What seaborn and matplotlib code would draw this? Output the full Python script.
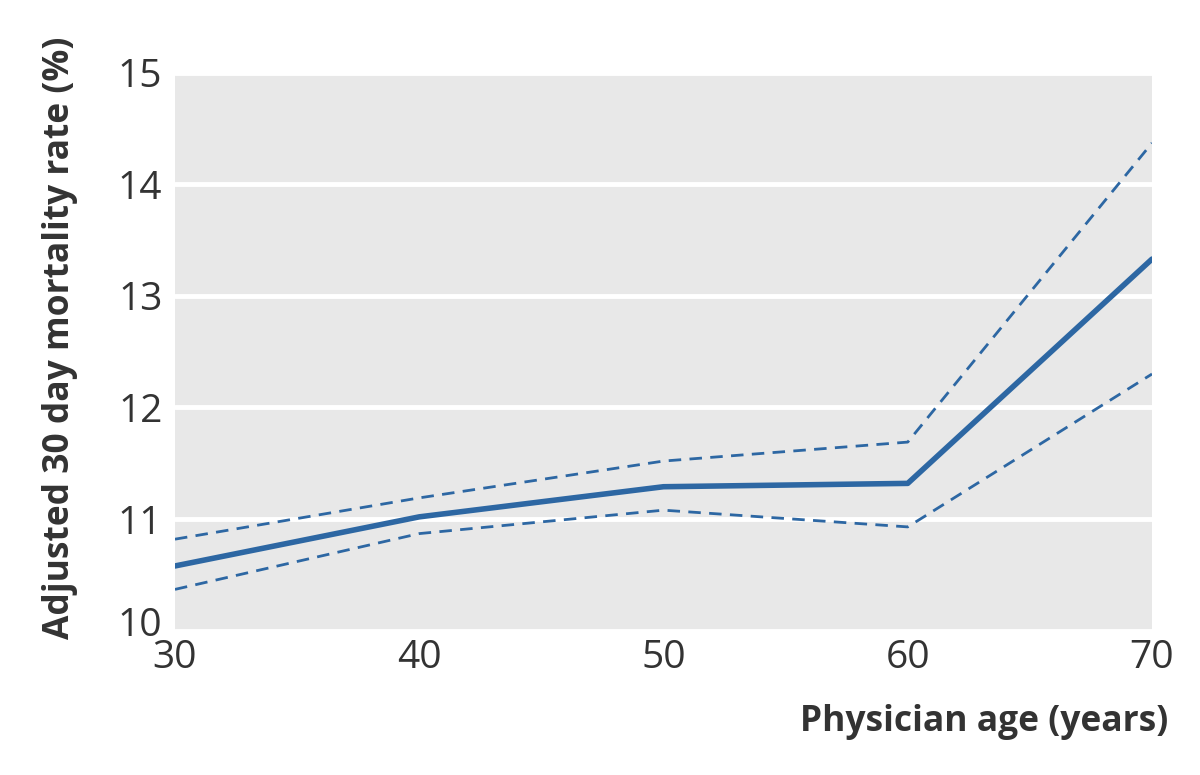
import matplotlib
matplotlib.use("Agg")
import matplotlib.pyplot as plt
import matplotlib.transforms as mtrans
import seaborn as sns
import pandas as pd

age = [30, 40, 50, 60, 70]
rate = [10.58, 11.02, 11.29, 11.32, 13.33]
upper = [10.82, 11.19, 11.52, 11.69, 14.37]
lower = [10.37, 10.87, 11.08, 10.93, 12.30]
yticks = [10, 11, 12, 13, 14, 15]
xticks = [30, 40, 50, 60, 70]

sns.set_theme(style="darkgrid")
plt.rcParams['font.family'] = ['Open Sans', 'DejaVu Sans']

df = pd.DataFrame({"age": age, "rate": rate, "upper": upper, "lower": lower})

fig = plt.figure(figsize=(12, 7.75), dpi=100)
ax = fig.add_axes([0.1458, 0.1862, 0.96 - 0.1458, 0.9062 - 0.1862])
ax.set_facecolor("#e8e8e8")

col = "#2d67a3"
sns.lineplot(data=df, x="age", y="upper", ax=ax, color=col, lw=2.0,
             linestyle=(0, (4.5, 3)))
sns.lineplot(data=df, x="age", y="lower", ax=ax, color=col, lw=2.0,
             linestyle=(0, (4.5, 3)))
sns.lineplot(data=df, x="age", y="rate", ax=ax, color=col, lw=4.0,
             solid_capstyle="round")

ax.set_xlim(30, 70)
ax.set_ylim(10, 15)
ax.set_xticks(xticks)
ax.set_yticks(yticks)
ax.grid(False)
ax.yaxis.grid(True, color="white", lw=3.5)
ax.set_axisbelow(True)
for s in ax.spines.values():
    s.set_visible(False)
ax.tick_params(length=0, labelsize=28, colors="#333333")
ax.tick_params(axis="y", pad=9)
ax.tick_params(axis="x", pad=6)

# nudge the bottom y label up slightly as in the reference
lbl = ax.get_yticklabels()[0]
lbl.set_transform(lbl.get_transform() + mtrans.ScaledTranslation(0, 9 / 100, fig.dpi_scale_trans))

ax.set_xlabel("")
ax.set_ylabel("")
fig.text(1168 / 1200, 1 - 722 / 775, "Physician age (years)", ha="right", va="center",
         fontsize=25.5, fontweight="bold", color="#333333")
fig.text(60 / 1200, 1 - 338 / 775, "Adjusted 30 day mortality rate (%)", ha="center",
         va="center", rotation=90, fontsize=25.5, fontweight="bold", color="#333333")

fig.savefig("out.png", dpi=100, facecolor="white")
